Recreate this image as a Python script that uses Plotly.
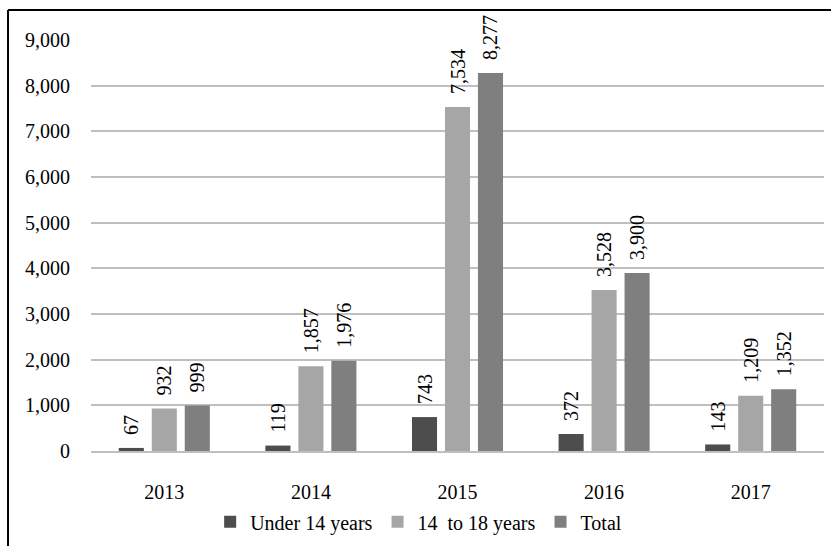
import plotly.graph_objects as go

years = ["2013", "2014", "2015", "2016", "2017"]
under14 = [67, 119, 743, 372, 143]
age14_18 = [932, 1857, 7534, 3528, 1209]
total = [999, 1976, 8277, 3900, 1352]

series_names = ["Under 14 years", "14\u00a0\u00a0to 18 years", "Total"]
colors = ["#4d4d4d", "#a6a6a6", "#7f7f7f"]

FONT = "Liberation Serif"
fig = go.Figure()
for name, vals, col in zip(series_names, [under14, age14_18, total], colors):
    fig.add_trace(go.Bar(
        x=years, y=vals, name=name, marker=dict(color=col, line=dict(width=0)),
        texttemplate="\u00a0\u00a0%{y:,}", textposition="outside", textangle=-90,
        constraintext="none",
        textfont=dict(family=FONT, size=20, color="#000000"),
        cliponaxis=False, hoverinfo="skip",
    ))

fig.update_layout(
    width=831, height=546,
    paper_bgcolor="white", plot_bgcolor="white",
    margin=dict(l=91, r=7, t=40, b=95, autoexpand=False),
    barmode="group", bargap=0.325, bargroupgap=0.24,
    font=dict(family=FONT, size=20, color="#000000"),
    showlegend=True,
    legend=dict(orientation="h", x=0.447, xanchor="center", y=-0.172, yanchor="middle",
                font=dict(family=FONT, size=20), itemwidth=30, traceorder="normal"),
    yaxis=dict(range=[0, 9000], dtick=1000, tickformat=",", showgrid=True,
               gridcolor="#bfbfbf", gridwidth=2, zeroline=False, showline=False,
               ticks="", ticklabelstandoff=20, tickfont=dict(family=FONT, size=20)),
    xaxis=dict(range=[-0.5, 4.5], showline=True, linecolor="#bfbfbf", linewidth=2, ticks="",
               ticklabelstandoff=22, tickfont=dict(family=FONT, size=20)),
    shapes=[
        dict(type="line", xref="paper", yref="paper", x0=-0.1132, x1=1.02, y0=1.073, y1=1.073,
             line=dict(color="black", width=2)),
        dict(type="line", xref="paper", yref="paper", x0=-0.1132, x1=-0.1132, y0=1.073, y1=-0.25,
             line=dict(color="black", width=2)),
    ],
)

fig.write_html("out.html", config={"displayModeBar": False},
               post_script="document.body.style.margin='0px';document.body.style.overflow='hidden';")
